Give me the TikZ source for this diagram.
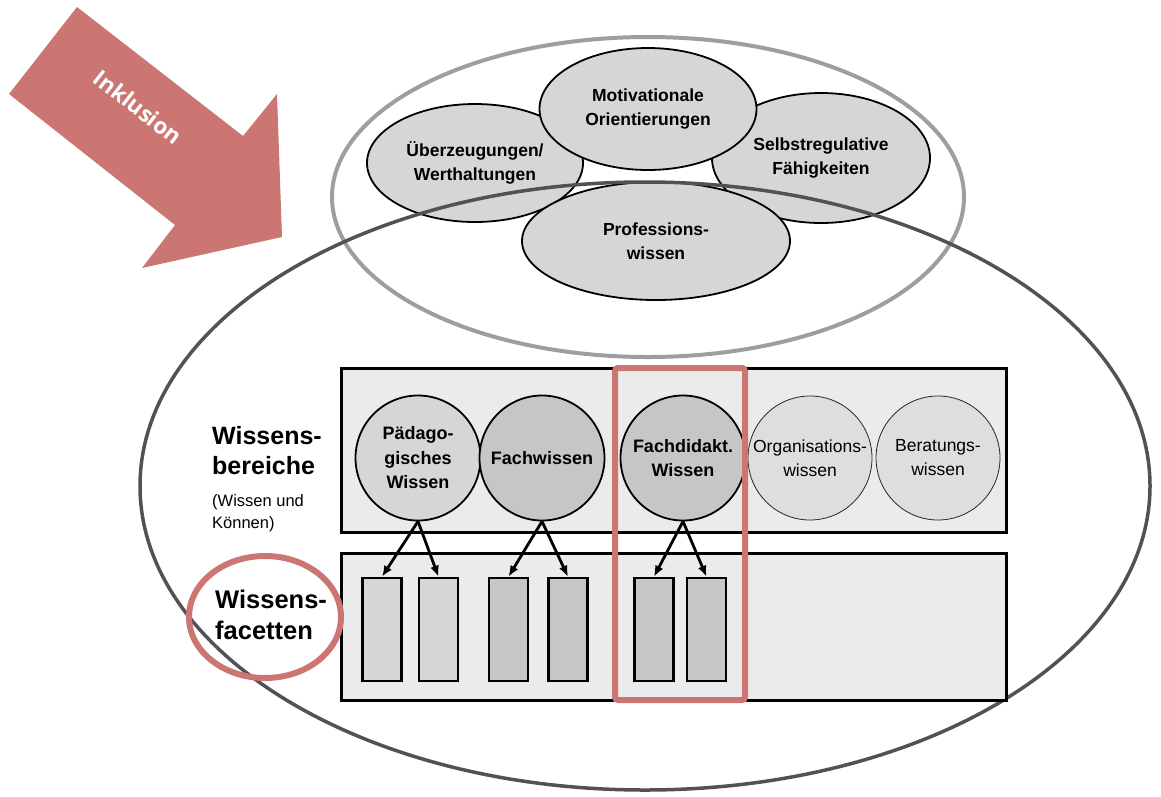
\documentclass[tikz,border=0pt]{standalone}
\usepackage{fontspec}
\setmainfont{Liberation Sans}
\newfontfamily\inkfont{Open Sans}
\usetikzlibrary{shapes.geometric,arrows.meta}
\definecolor{inkred}{HTML}{CB7672}
\definecolor{boxgrey}{HTML}{EBEBEB}
\definecolor{midgrey}{HTML}{C6C6C6}
\definecolor{lightgrey}{HTML}{D6D6D6}
\definecolor{palegrey}{HTML}{DEDEDE}
\tikzset{
  ovalnode/.style={ellipse, draw=black, line width=1.8pt, fill=lightgrey, inner sep=0pt, align=center, font=\fontsize{17.5}{24}\selectfont\bfseries},
  maincirc/.style={circle, draw=black, line width=1.8pt, fill=midgrey, minimum size=125pt, inner sep=0pt, align=center, font=\fontsize{18}{24.5}\selectfont\bfseries},
  sidecirc/.style={circle, draw=black!85, line width=0.8pt, fill=palegrey, minimum size=124pt, inner sep=0pt, align=center, font=\fontsize{17.5}{24}\selectfont},
  layerbox/.style={rectangle, draw=black, line width=3pt, fill=boxgrey, inner sep=0pt},
  facet/.style={rectangle, draw=black, line width=2.6pt, inner sep=0pt, minimum width=39pt, minimum height=103pt},
  linkarrow/.style={line width=2.8pt, -{Latex[length=11pt,width=9pt]}},
  highlight/.style={draw=inkred, line width=6pt},
}
\begin{document}
\begin{tikzpicture}[x=1pt,y=-1pt]
\useasboundingbox (0,0) rectangle (1161,796);
% Inklusion arrow
\fill[inkred] (77,7) -- (243,136) -- (277,94) -- (282,237) -- (142,268) -- (175,225) -- (9,94) -- cycle;
\node[text=white, rotate=-38, font=\inkfont\fontsize{22.5}{26}\selectfont\bfseries] (ink) at (138,107) {Inklusion};
% upper grey ellipse
\node[ellipse, draw=black!38, line width=4pt, minimum width=632pt, minimum height=320pt, inner sep=0pt] (upper) at (648,197) {};
% small ellipses
\node[ovalnode, minimum width=216pt, minimum height=118pt] (ueb) at (475,163) {Überzeugungen/\\Werthaltungen};
\node[ovalnode, minimum width=218pt, minimum height=130pt] (selb) at (821,158) {Selbstregulative\\Fähigkeiten};
\node[ovalnode, minimum width=217pt, minimum height=122pt] (mot) at (648,109) {Motivationale\\Orientierungen};
\node[ovalnode, minimum width=268pt, minimum height=118pt] (prof) at (656,241) {Professions-\\wissen};
% big dark ellipse
\node[ellipse, draw=black!68, line width=3.5pt, minimum width=1010pt, minimum height=608pt, inner sep=0pt] (big) at (645,486) {};
% layer boxes
\node[layerbox, minimum width=665pt, minimum height=164pt] (bereich) at (673.5,450) {};
\node[layerbox, minimum width=665pt, minimum height=147pt] (facbox) at (673.5,626.5) {};
% circles
\node[maincirc, fill=lightgrey] (paed) at (418,458) {Pädago-\\gisches\\Wissen};
\node[maincirc] (fach) at (542,458) {Fachwissen};
\node[maincirc] (fdid) at (683,458) {Fachdidakt.\\Wissen};
\node[sidecirc] (org) at (810,458) {Organisations-\\wissen};
\node[sidecirc] (ber) at (938,458) {Beratungs-\\wissen};
% facets
\node[facet, fill=lightgrey] (f1) at (382,629.5) {};
\node[facet, fill=lightgrey] (f2) at (438.5,629.5) {};
\node[facet, fill=midgrey] (f3) at (508.5,629.5) {};
\node[facet, fill=midgrey] (f4) at (568,629.5) {};
\node[facet, fill=midgrey] (f5) at (654,629.5) {};
\node[facet, fill=midgrey] (f6) at (706.5,629.5) {};
% arrows
\draw[linkarrow] (paed.south) -- (f1.north);
\draw[linkarrow] (paed.south) -- (f2.north);
\draw[linkarrow] (fach.south) -- (f3.north);
\draw[linkarrow] (fach.south) -- (f4.north);
\draw[linkarrow] (fdid.south) -- (f5.north);
\draw[linkarrow] (fdid.south) -- (f6.north);
% highlight rectangle
\node[highlight, rectangle, rounded corners=3pt, minimum width=130pt, minimum height=332pt, inner sep=0pt] (hl) at (680,534) {};
% left labels
\node[anchor=north west, align=left, inner sep=0pt, font=\fontsize{25}{30}\selectfont\bfseries] (wb) at (212,426) {Wissens-\\bereiche};
\node[anchor=north west, align=left, inner sep=0pt, font=\fontsize{16.5}{22}\selectfont] (wk) at (212,494) {(Wissen und\\Können)};
\node[highlight, ellipse, minimum width=152pt, minimum height=122pt, inner sep=0pt] (facring) at (265,617) {};
\node[anchor=north west, align=left, inner sep=0pt, font=\fontsize{25.5}{31}\selectfont\bfseries] (wf) at (215,590) {Wissens-\\facetten};
\end{tikzpicture}
\end{document}
